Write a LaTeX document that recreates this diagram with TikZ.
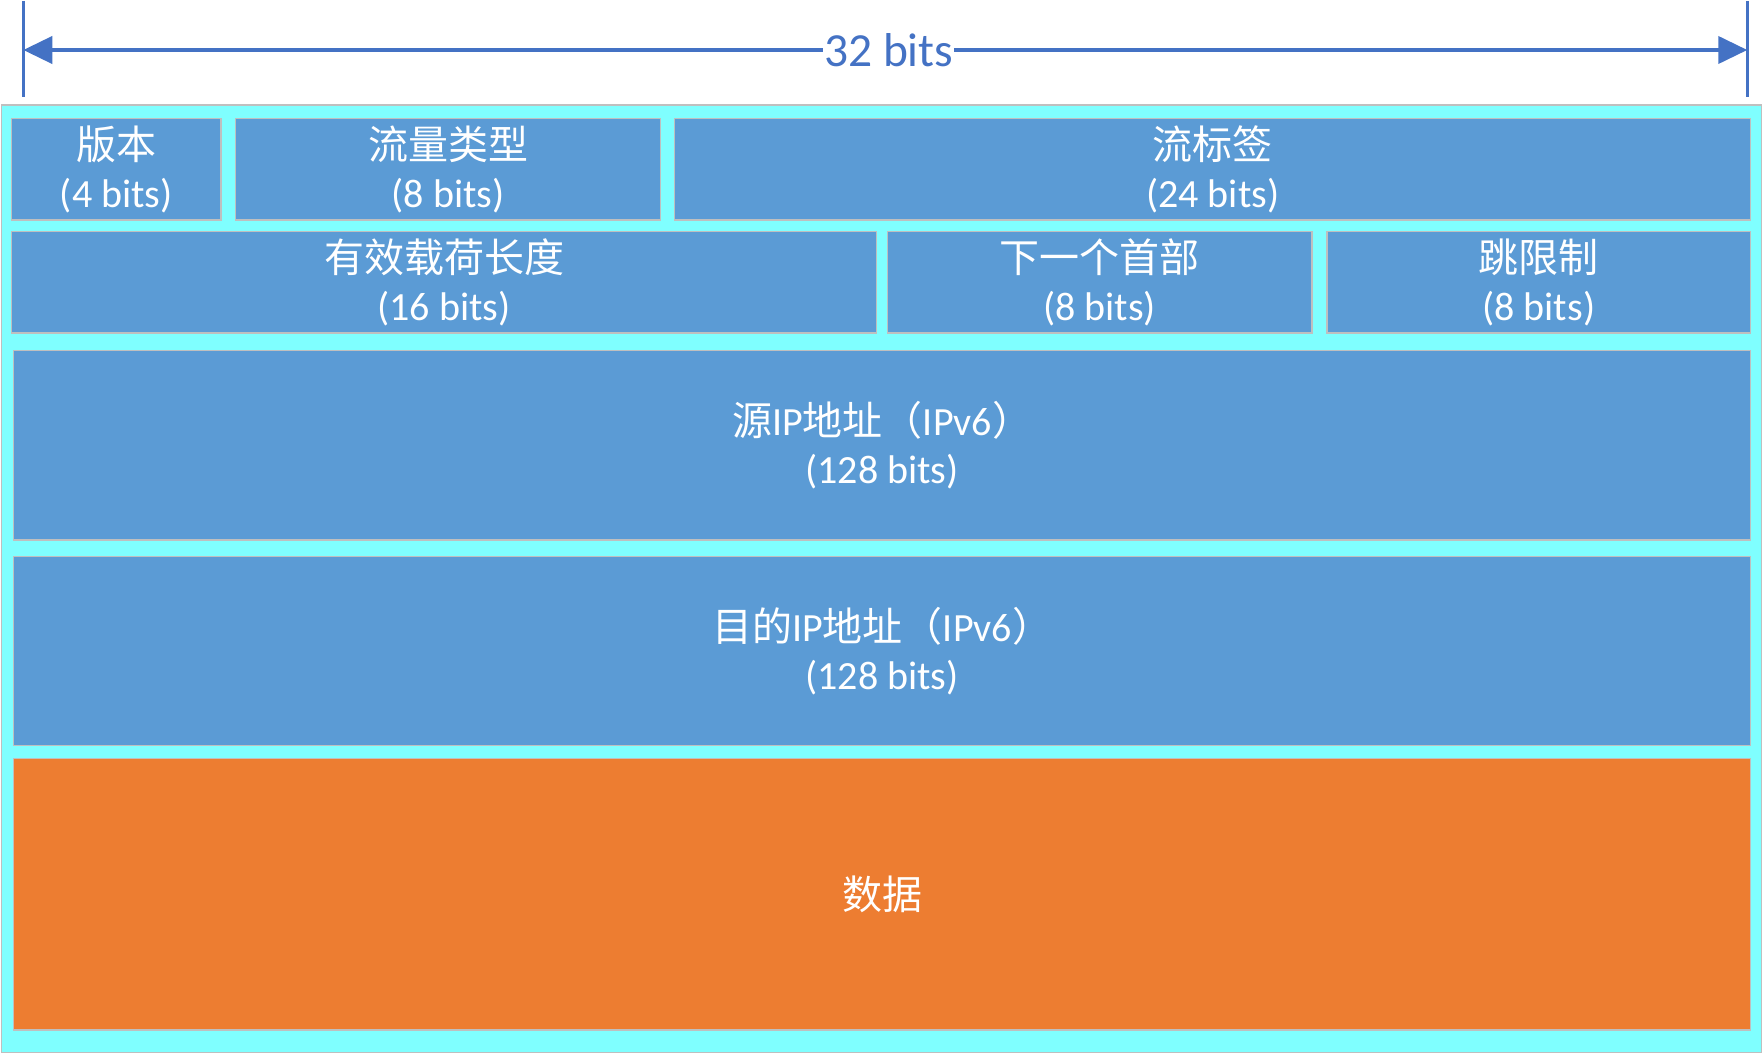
\documentclass[tikz,border=0pt]{standalone}
\usepackage{fontspec}
\setmainfont{Carlito}
\newfontfamily\cjk{Noto Sans CJK SC}
\usetikzlibrary{arrows.meta}
\definecolor{framecyan}{HTML}{7FFFFF}
\definecolor{fieldblue}{HTML}{5B9BD5}
\definecolor{dataorange}{HTML}{ED7D31}
\definecolor{edgegray}{HTML}{BFBFBF}
\definecolor{dimblue}{HTML}{4472C4}

\begin{document}
\begin{tikzpicture}[x = 1pt, y = -1pt,
        frame/.style = {draw = edgegray, line width = 1.5pt, fill = framecyan, anchor = north west, inner sep = 0pt, outer sep = 0pt},
        field/.style = {frame, fill = fieldblue, text = white, align = center, font = \fontsize{40}{48}\selectfont},
        datafield/.style = {field, fill = dataorange},
        dimline/.style = {draw = dimblue, line width = 4pt, {Triangle[length = 29pt, width = 27pt]}-{Triangle[length = 29pt, width = 27pt]}},
        dimtick/.style = {draw = dimblue, line width = 3.5pt}]
    \useasboundingbox (0, 0) rectangle (1764, 1054);

    \node [frame] (frame) at (1.7, 105) [minimum width = 1760pt, minimum height = 947.5pt] {};

    \node [field] (ver) at (11.7, 118.3) [minimum width = 209.3pt, minimum height = 101.7pt] {{\cjk 版本}\\(4 bits)};
    \node [field] (tc) at (235.7, 118.3) [minimum width = 424.6pt, minimum height = 101.7pt] {{\cjk 流量类型}\\(8 bits)};
    \node [field] (fl) at (674.7, 118.3) [minimum width = 1076pt, minimum height = 101.7pt] {{\cjk 流标签}\\(24 bits)};

    \node [field] (plen) at (11.7, 231.7) [minimum width = 864.7pt, minimum height = 101.3pt] {{\cjk 有效载荷长度}\\(16 bits)};
    \node [field] (nh) at (887.3, 231.7) [minimum width = 424.8pt, minimum height = 101.3pt] {{\cjk 下一个首部}\\(8 bits)};
    \node [field] (hl) at (1326.8, 231.7) [minimum width = 423.9pt, minimum height = 101.3pt] {{\cjk 跳限制}\\(8 bits)};

    \node [field] (src) at (13.5, 350.7) [minimum width = 1737.2pt, minimum height = 189.3pt] {{\cjk 源}IP{\cjk 地址（}IPv6{\cjk ）}\\(128 bits)};
    \node [field] (dst) at (13.5, 556.7) [minimum width = 1737.2pt, minimum height = 189pt] {{\cjk 目的}IP{\cjk 地址（}IPv6{\cjk ）}\\(128 bits)};
    \node [datafield] (data) at (13.5, 758.3) [minimum width = 1737.2pt, minimum height = 271.7pt] {\cjk 数据};

    \coordinate (ltop) at (23.3, 1);
    \coordinate (lbot) at (23.3, 97);
    \coordinate (rtop) at (1747.3, 1);
    \coordinate (rbot) at (1747.3, 97);
    \coordinate (lend) at (23.3, 50);
    \coordinate (rend) at (1747.3, 50);

    \path [dimtick] (ltop) -- (lbot);
    \path [dimtick] (rtop) -- (rbot);
    \path [dimline] (lend) -- node [pos = 0.502, fill = white, text = dimblue, inner sep = 1pt, font = \fontsize{47.5}{57}\selectfont] (width) {32 bits} (rend);
\end{tikzpicture}
\end{document}
